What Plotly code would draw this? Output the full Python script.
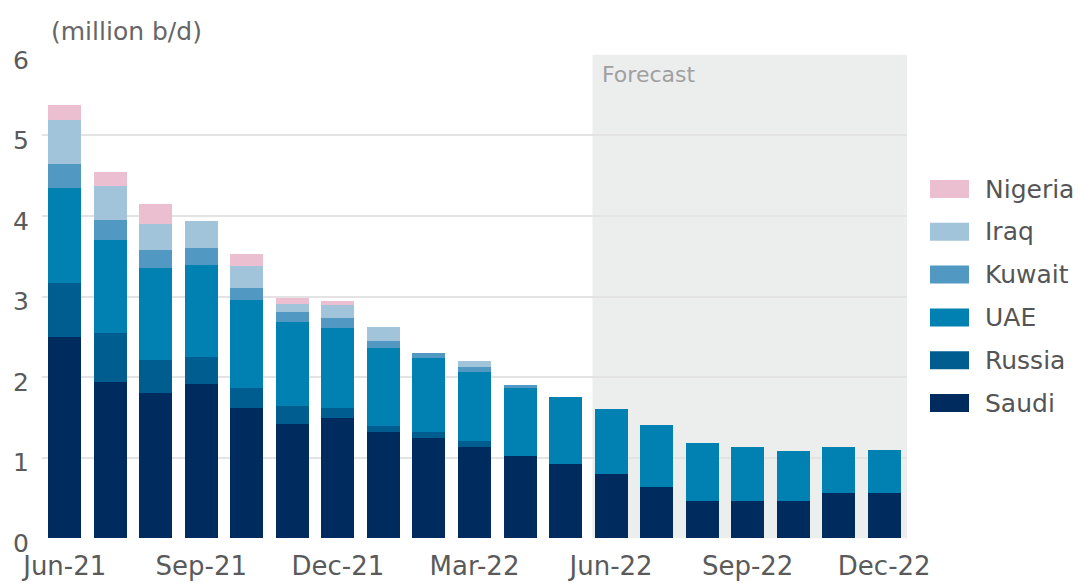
import plotly.graph_objects as go

months = ["Jun-21", "Jul-21", "Aug-21", "Sep-21", "Oct-21", "Nov-21", "Dec-21",
          "Jan-22", "Feb-22", "Mar-22", "Apr-22", "May-22", "Jun-22", "Jul-22",
          "Aug-22", "Sep-22", "Oct-22", "Nov-22", "Dec-22"]
tick_labels = ["Jun-21", "Sep-21", "Dec-21", "Mar-22", "Jun-22", "Sep-22", "Dec-22"]

saudi = [2.50, 1.94, 1.80, 1.91, 1.61, 1.42, 1.49, 1.32, 1.24, 1.13, 1.02, 0.92, 0.80,
         0.63, 0.46, 0.46, 0.46, 0.56, 0.56]
russia = [0.67, 0.61, 0.41, 0.34, 0.25, 0.22, 0.13, 0.07, 0.08, 0.08, 0, 0, 0,
          0, 0, 0, 0, 0, 0]
uae = [1.18, 1.15, 1.14, 1.14, 1.10, 1.04, 0.99, 0.97, 0.92, 0.85, 0.84, 0.83, 0.80,
       0.78, 0.72, 0.67, 0.62, 0.57, 0.53]
kuwait = [0.30, 0.25, 0.23, 0.21, 0.15, 0.13, 0.12, 0.09, 0.06, 0.07, 0.04, 0, 0,
          0, 0, 0, 0, 0, 0]
iraq = [0.54, 0.42, 0.32, 0.34, 0.27, 0.10, 0.16, 0.17, 0, 0.07, 0, 0, 0,
        0, 0, 0, 0, 0, 0]
nigeria = [0.19, 0.18, 0.25, 0, 0.15, 0.07, 0.05, 0, 0, 0, 0, 0, 0,
           0, 0, 0, 0, 0, 0]

series = [
    ("Saudi", saudi, "#002b5e"),
    ("Russia", russia, "#005d8f"),
    ("UAE", uae, "#0081b1"),
    ("Kuwait", kuwait, "#5199c2"),
    ("Iraq", iraq, "#a2c4da"),
    ("Nigeria", nigeria, "#ebbfcf"),
]
forecast_start = "Jun-22"

FONT = "DejaVu Sans"
W, H = 1080, 583
L, R, T, B = 42, 173, 54, 44
PW, PH = W - L - R, H - T - B


def pxx(px):
    return (px - L) / PW


def pxy(py):
    return (H - B - py) / PH


fig = go.Figure()
for name, vals, col in series:
    fig.add_trace(go.Bar(x=months, y=vals, name=name, marker_color=col,
                         marker_line_width=0, showlegend=False))

fs = months.index(forecast_start)
fig.add_shape(type="rect", xref="x", yref="y", x0=fs - 0.41, x1=len(months) - 0.5,
              y0=0, y1=6, fillcolor="#eceeee", line_width=0, layer="below")

annotations = [
    dict(text="(million b/d)", xref="paper", yref="paper", x=pxx(49), y=pxy(32),
         xanchor="left", yanchor="middle", showarrow=False,
         font=dict(family=FONT, size=25, color="#666666")),
    dict(text="Forecast", xref="paper", yref="paper", x=pxx(600), y=pxy(75),
         xanchor="left", yanchor="middle", showarrow=False,
         font=dict(family=FONT, size=22, color="#a0a0a0")),
]
for i, (name, vals, col) in enumerate(reversed(series)):
    cy = 189 + 42.8 * i
    fig.add_shape(type="rect", xref="paper", yref="paper",
                  x0=pxx(930), x1=pxx(969), y0=pxy(cy + 9), y1=pxy(cy - 9),
                  fillcolor=col, line_width=0)
    annotations.append(dict(text=name, xref="paper", yref="paper", x=pxx(983), y=pxy(cy),
                            xanchor="left", yanchor="middle", showarrow=False,
                            font=dict(family=FONT, size=25, color="#555555")))

fig.update_layout(
    width=W, height=H,
    margin=dict(l=L, r=R, t=T, b=B, pad=0),
    barmode="stack", bargap=0.275,
    plot_bgcolor="white", paper_bgcolor="white",
    font=dict(family=FONT, color="#555555"),
    annotations=annotations,
    showlegend=False,
)
fig.update_xaxes(type="category", tickmode="array", tickvals=tick_labels, ticktext=tick_labels,
                 showgrid=False, showline=False, ticks="", range=[-0.5, len(months) - 0.5],
                 automargin=False,
                 tickfont=dict(family=FONT, size=26, color="#5a5a5a"), ticklabelstandoff=9)
fig.update_yaxes(range=[-0.01, 6.01], tickvals=[0, 1, 2, 3, 4, 5, 6], showgrid=True,
                 gridcolor="#e3e3e3", gridwidth=1.5,
                 zeroline=False, showline=False, ticks="", automargin=False,
                 tickfont=dict(family=FONT, size=25, color="#5a5a5a"),
                 ticklabelstandoff=12, ticklabelshift=5)

fig.write_html("out.html")
